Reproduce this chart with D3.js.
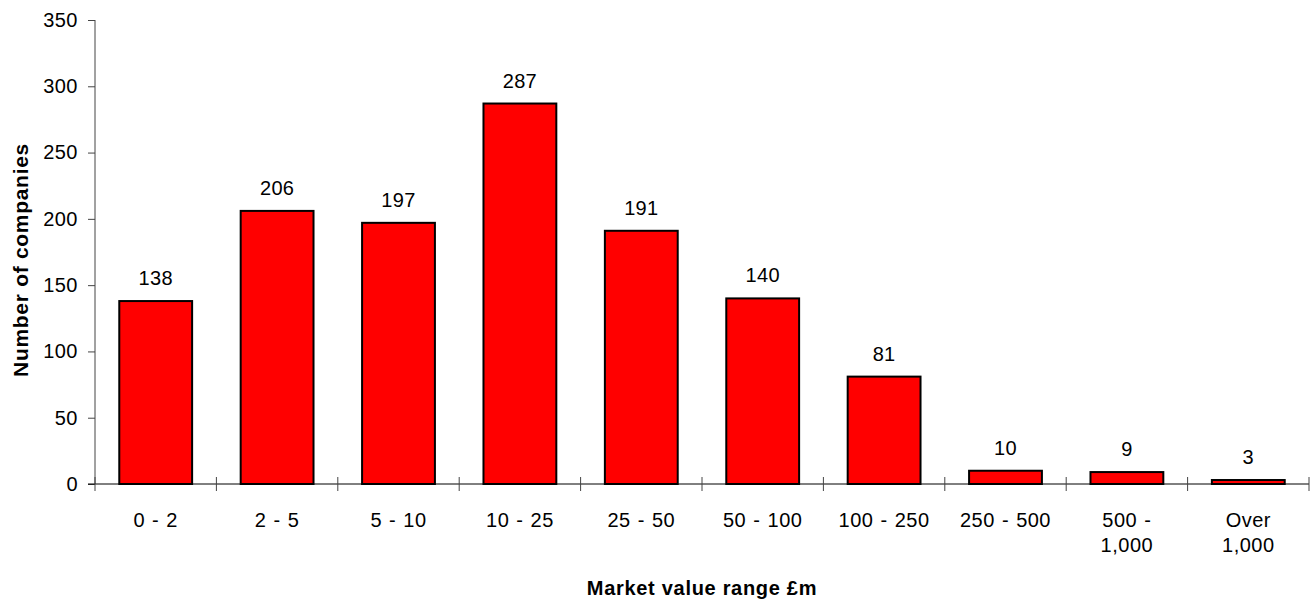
<!DOCTYPE html>
<html>
<head>
<meta charset="utf-8">
<script src="https://cdn.jsdelivr.net/npm/d3@7"></script>
<style>
  body { margin: 0; background: #fff; }
  text { font-family: Arial, "Liberation Sans", sans-serif; fill: #000; }
</style>
</head>
<body>
<div id="chart"></div>
<script>
// market value bands (two-line labels split on "|")
var categories = ["0 - 2", "2 - 5", "5 - 10", "10 - 25", "25 - 50", "50 - 100",
                  "100 - 250", "250 - 500", "500 -|1,000", "Over|1,000"];
var companies = [138, 206, 197, 287, 191, 140, 81, 10, 9, 3];
var yTicks = [0, 50, 100, 150, 200, 250, 300, 350];

var width = 1313, height = 601;
var mLeft = 95, mRight = 1309, mTop = 20, mBottom = 484;

var svg = d3.select("#chart")
  .append("svg")
  .attr("width", width)
  .attr("height", height);

var x = d3.scaleBand()
  .domain(categories)
  .range([mLeft, mRight])
  .paddingInner(0.4)
  .paddingOuter(0.2);

var y = d3.scaleLinear()
  .domain([0, 350])
  .range([mBottom, mTop]);

// y axis
var yAxis = svg.append("g")
  .attr("transform", "translate(" + mLeft + ",0)")
  .call(d3.axisLeft(y).tickValues(yTicks).tickSize(7).tickPadding(10));
yAxis.select(".domain").attr("stroke", "#444").attr("d", "M0," + mTop + "V" + mBottom);
yAxis.selectAll(".tick line").attr("stroke", "#444");
yAxis.selectAll("text")
  .style("font-size", "20px")
  .style("letter-spacing", "0.5px")
  .style("font-family", "Arial, 'Liberation Sans', sans-serif");

// bars
svg.selectAll("rect.bar")
  .data(companies)
  .enter()
  .append("rect")
    .attr("class", "bar")
    .attr("x", function(d, i){ return x(categories[i]); })
    .attr("y", function(d){ return y(d); })
    .attr("width", x.bandwidth())
    .attr("height", function(d){ return mBottom - y(d); })
    .style("fill", "#ff0000")
    .style("stroke", "#000")
    .style("stroke-width", 2);

// value labels
svg.selectAll("text.val")
  .data(companies)
  .enter()
  .append("text")
    .attr("class", "val")
    .attr("x", function(d, i){ return x(categories[i]) + x.bandwidth() / 2; })
    .attr("y", function(d){ return y(d) - 16; })
    .attr("text-anchor", "middle")
    .style("font-size", "20px")
    .style("letter-spacing", "0.3px")
    .text(function(d){ return d; });

// x axis line and boundary ticks
svg.append("line")
  .attr("x1", mLeft - 7).attr("x2", mRight)
  .attr("y1", mBottom).attr("y2", mBottom)
  .attr("stroke", "#000");

var bounds = categories.map(function(c){ return x(c) - x.step() * 0.2; }).concat([mRight]);
svg.selectAll("line.xt")
  .data(bounds)
  .enter()
  .append("line")
    .attr("x1", function(d){ return d; }).attr("x2", function(d){ return d; })
    .attr("y1", mBottom - 7).attr("y2", mBottom + 7)
    .attr("stroke", "#444");

// category labels
var cat = svg.selectAll("text.cat")
  .data(categories)
  .enter()
  .append("text")
    .attr("class", "cat")
    .attr("text-anchor", "middle")
    .style("font-size", "20px")
    .style("letter-spacing", "0.5px")
    .style("word-spacing", "1px");
cat.selectAll("tspan")
  .data(function(d){ return d.split("|").map(function(s){ return { s: s, c: d }; }); })
  .enter()
  .append("tspan")
    .attr("x", function(d){ return x(d.c) + x.bandwidth() / 2; })
    .attr("y", function(d, i){ return 527 + i * 25; })
    .text(function(d){ return d.s; });

// axis titles
svg.append("text")
  .attr("x", (mLeft + mRight) / 2)
  .attr("y", 595)
  .attr("text-anchor", "middle")
  .style("font-size", "20px")
  .style("font-weight", "bold")
  .style("letter-spacing", "0.7px")
  .text("Market value range £m");

svg.append("text")
  .attr("transform", "translate(28,260) rotate(-90)")
  .attr("text-anchor", "middle")
  .style("font-size", "21px")
  .style("font-weight", "bold")
  .style("letter-spacing", "0.7px")
  .text("Number of companies");
</script>
</body>
</html>
